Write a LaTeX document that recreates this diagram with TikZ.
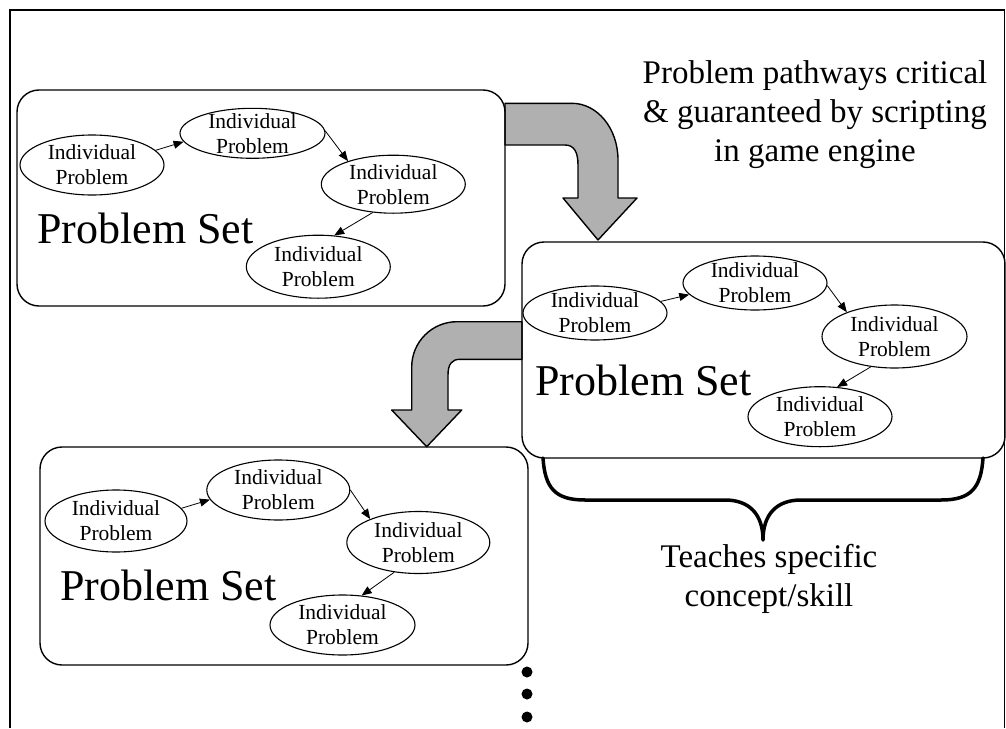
\documentclass[tikz,border=0pt]{standalone}
\usepackage{fontspec}
\setmainfont{Liberation Serif}
\usetikzlibrary{shapes.geometric,arrows.meta}
\definecolor{arrowgray}{RGB}{176,176,176}
\tikzset{
  psbox/.style={draw, rounded corners=22pt, line width=1.4pt, inner sep=0pt},
  ell/.style={draw, ellipse, inner sep=-6pt, line width=1.1pt, align=center,
              font=\fontsize{21.5}{25}\selectfont},
  conn/.style={line width=0.8pt, -{Triangle[length=10pt,width=8pt]}},
  settitle/.style={anchor=base west, inner sep=0pt, font=\fontsize{44}{50}\selectfont},
  note/.style={anchor=north, inner sep=0pt, align=center, font=\fontsize{33}{39}\selectfont},
  blockarrow/.style={draw, line width=1.4pt, fill=arrowgray, line join=round},
  dotmark/.style={circle, fill=black, inner sep=0pt, minimum size=11pt}
}
\begin{document}
\begin{tikzpicture}[x=1pt,y=-1pt]
\useasboundingbox (0,0) rectangle (1006,728);
% outer frame
\draw[line width=1.5pt] (10,728) -- (10,10) -- (1004.5,10) -- (1004.5,728);

% block arrows
\draw[blockarrow] (505,103.3) -- (572,103.3) .. controls (597,103.3) and (618,128) .. (618,160)
  -- (618,198) -- (637,198) -- (598,240) -- (563,198) -- (578,198) -- (578,165)
  .. controls (578,152) and (574,145) .. (565,145) -- (505,145) -- cycle;
\draw[blockarrow] (522,321.7) -- (457,321.7) .. controls (432,321.7) and (411.7,342) .. (411.7,367)
  -- (411.7,410) -- (391.7,410) -- (426.7,446.7) -- (461.7,410) -- (448,410) -- (448,375)
  .. controls (448,364) and (452,359.3) .. (460,359.3) -- (522,359.3) -- cycle;

% boxes
\node[psbox, minimum width=488pt, minimum height=216pt] (box1) at (261,198) {};
\node[psbox, minimum width=483pt, minimum height=216pt] (box2) at (763.5,350) {};
\node[psbox, minimum width=488pt, minimum height=218pt] (box3) at (284,556) {};

% box 1
\node[settitle] (t1) at (37,243) {Problem Set};
\node[ell, minimum width=144pt, minimum height=60pt] (a1) at (92,165) {Individual\\Problem};
\node[ell, minimum width=145pt, minimum height=50pt] (a2) at (252.5,133.3) {Individual\\Problem};
\node[ell, minimum width=144pt, minimum height=58pt] (a3) at (393.3,184.2) {Individual\\Problem};
\node[ell, minimum width=144pt, minimum height=63pt] (a4) at (318.3,266.7) {Individual\\Problem};
\draw[conn] (a1.13) -- (a2.187);
\draw[conn] (a2.2) -- (a3.153);
\draw[conn] (a3.234) -- (a4.63);

% box 2
\node[settitle] (t2) at (535,395) {Problem Set};
\node[ell, minimum width=144pt, minimum height=54pt] (b1) at (595,313) {Individual\\Problem};
\node[ell, minimum width=144pt, minimum height=54pt] (b2) at (755,283) {Individual\\Problem};
\node[ell, minimum width=145pt, minimum height=63pt] (b3) at (894.5,336.5) {Individual\\Problem};
\node[ell, minimum width=144pt, minimum height=60pt] (b4) at (820,416.7) {Individual\\Problem};
\draw[conn] (b1.10) -- (b2.190);
\draw[conn] (b2.358) -- (b3.153);
\draw[conn] (b3.232) -- (b4.60);

% box 3
\node[settitle] (t3) at (60,600) {Problem Set};
\node[ell, minimum width=142pt, minimum height=62pt] (c1) at (116,521) {Individual\\Problem};
\node[ell, minimum width=143pt, minimum height=60pt] (c2) at (278.3,490) {Individual\\Problem};
\node[ell, minimum width=143pt, minimum height=62pt] (c3) at (418.3,542.5) {Individual\\Problem};
\node[ell, minimum width=145pt, minimum height=60pt] (c4) at (342.5,625) {Individual\\Problem};
\draw[conn] (c1.11) -- (c2.188);
\draw[conn] (c2.0) -- (c3.154);
\draw[conn] (c3.231) -- (c4.57);

% top note
\node[note] (n1) at (815,60.5) {Problem pathways critical\\\& guaranteed by scripting\\in game engine};

% brace
\draw[line width=3.5pt, line cap=round, line join=round]
  (543,458) .. controls (545,488) and (555,500) .. (585,500) -- (725,500)
  .. controls (750,500) and (763,515) .. (763,540)
  .. controls (763,515) and (776,500) .. (801,500) -- (941,500)
  .. controls (971,500) and (981,488) .. (983,458);
\node[note] (n2) at (769,544.5) {Teaches specific\\concept/skill};

% continuation dots
\node[dotmark] (d1) at (527,672) {};
\node[dotmark] (d2) at (527,694) {};
\node[dotmark] (d3) at (527,717) {};
\end{tikzpicture}
\end{document}
